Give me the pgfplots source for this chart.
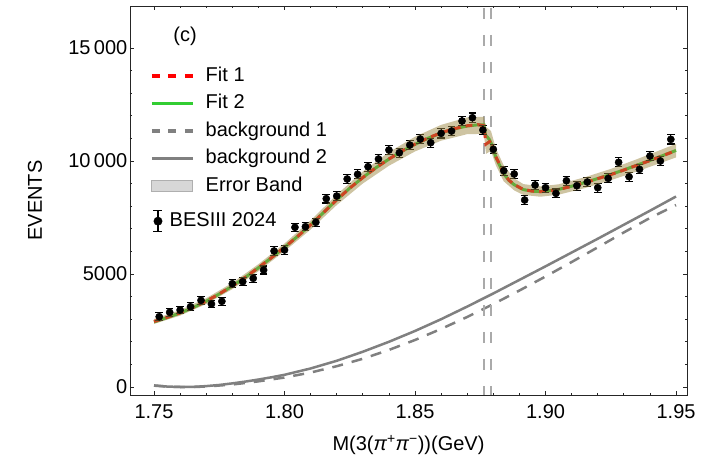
\documentclass[border=0pt]{standalone}
\usepackage{pgfplots}
\usepackage{pgfplotstable}
\pgfplotsset{compat=1.18}
\usepackage{fontspec}
\setmainfont{Liberation Sans}

\definecolor{fitred}{RGB}{255,0,0}
\definecolor{fitgreen}{RGB}{50,205,50}
\definecolor{bkggray}{RGB}{128,128,128}
\definecolor{thrgray}{RGB}{170,170,170}
\definecolor{bandtan}{RGB}{157,137,69}
\definecolor{legbandfill}{RGB}{215,215,215}
\definecolor{legbanddraw}{RGB}{175,175,175}

% BESIII 2024 spectrum: bin centre, events, error
\pgfplotstableread{
x      y      err
1.752  3111   166
1.756  3305   167
1.760  3407   167
1.764  3553   168
1.768  3836   169
1.772  3673   168
1.776  3792   169
1.780  4571   173
1.784  4659   173
1.788  4810   174
1.792  5177   176
1.796  6018   180
1.800  6062   180
1.804  7066   185
1.808  7093   185
1.812  7288   186
1.816  8334   192
1.820  8451   192
1.824  9204   196
1.828  9412   197
1.832  9748   199
1.836  10088  200
1.840  10487  202
1.844  10367  202
1.848  10708  204
1.852  10973  205
1.856  10810  204
1.860  11225  206
1.864  11327  207
1.868  11770  209
1.872  11916  210
1.876  11372  207
1.880  10518  203
1.884  9571   198
1.888  9425   197
1.892  8274   191
1.896  8938   195
1.900  8819   194
1.904  8569   193
1.908  9128   196
1.912  8907   195
1.916  9071   195
1.920  8819   194
1.924  9233   196
1.928  9942   200
1.932  9305   197
1.936  9631   198
1.940  10221  201
1.944  10000  200
1.948  10960  205
}\besdata

% fit 1
\pgfplotstableread{
x       y
1.750   2900
1.755   3080
1.760   3280
1.765   3520
1.770   3800
1.775   4120
1.780   4470
1.785   4860
1.790   5280
1.795   5720
1.800   6180
1.805   6660
1.810   7170
1.815   7720
1.820   8280
1.825   8800
1.830   9270
1.835   9700
1.840   10090
1.845   10440
1.850   10750
1.855   11020
1.860   11250
1.865   11430
1.870   11560
1.874   11610
1.8764  11560
1.8772  10750
1.8791  10900
1.8805  10300
1.882   9950
1.884   9450
1.886   9150
1.888   8960
1.8915  8740
1.895   8665
1.898   8645
1.900   8660
1.905   8740
1.910   8880
1.915   9040
1.920   9220
1.925   9400
1.930   9600
1.935   9810
1.940   10020
1.945   10240
1.950   10460
}\fitone

% fit 2
\pgfplotstableread{
x       y
1.750   2880
1.755   3070
1.760   3275
1.765   3515
1.770   3795
1.775   4115
1.780   4465
1.785   4855
1.790   5275
1.795   5720
1.800   6180
1.805   6665
1.810   7180
1.815   7730
1.820   8285
1.825   8800
1.830   9270
1.835   9700
1.840   10085
1.845   10430
1.850   10740
1.855   11010
1.860   11240
1.865   11420
1.870   11550
1.874   11600
1.8764  11600
1.8770  11150
1.8785  10950
1.8795  10700
1.881   10150
1.884   9430
1.886   9140
1.888   8950
1.8915  8735
1.895   8665
1.898   8650
1.900   8665
1.905   8745
1.910   8885
1.915   9045
1.920   9225
1.925   9405
1.930   9605
1.935   9815
1.940   10025
1.945   10245
1.950   10470
}\fittwo

% background 1
\pgfplotstableread{
x      y
1.750  60
1.755  20
1.760  0
1.765  0
1.770  20
1.780  110
1.790  250
1.800  420
1.810  640
1.820  920
1.830  1250
1.840  1640
1.850  2080
1.860  2570
1.870  3100
1.880  3670
1.890  4270
1.900  4890
1.910  5530
1.920  6180
1.930  6840
1.940  7480
1.950  8050
}\bkgone

% background 2
\pgfplotstableread{
x      y
1.750  70
1.755  20
1.760  0
1.765  5
1.770  40
1.775  90
1.780  160
1.785  240
1.790  330
1.795  430
1.800  540
1.810  820
1.820  1160
1.830  1560
1.840  2000
1.850  2480
1.860  3000
1.870  3560
1.880  4140
1.890  4740
1.900  5340
1.910  5950
1.920  6560
1.930  7180
1.940  7800
1.950  8430
}\bkgtwo

% error band outline: upper edge left to right, lower edge right to left
\pgfplotstableread{
x       y
1.750   3010
1.760   3400
1.770   3930
1.780   4610
1.790   5435
1.800   6350
1.810   7370
1.820   8510
1.830   9535
1.840   10390
1.850   11075
1.860   11600
1.870   11930
1.8764  11960
1.8770  11530
1.8791  11330
1.881   10550
1.884   9800
1.888   9230
1.8915  8980
1.898   8880
1.905   8970
1.915   9280
1.925   9650
1.935   10080
1.945   10530
1.950   10760
1.950   10160
1.945   9950
1.935   9540
1.925   9150
1.915   8800
1.905   8510
1.898   8420
1.8915  8500
1.888   8700
1.884   9100
1.881   9800
1.8791  10450
1.8772  10320
1.8764  11200
1.870   11190
1.860   10900
1.850   10425
1.840   9790
1.830   9005
1.820   8050
1.810   6970
1.800   6010
1.790   5125
1.780   4330
1.770   3670
1.760   3160
1.750   2790
}\errband

\newcommand{\bigfont}{\fontsize{20bp}{24bp}\selectfont}

\begin{document}
\begin{tikzpicture}
\begin{axis}[
  width=557bp, height=389bp, scale only axis,
  xmin=1.7408, xmax=1.9542,
  ymin=-354, ymax=16860,
  xtick={1.75,1.8,1.85,1.9,1.95},
  ytick={0,5000,10000,15000},
  scaled y ticks=false,
  scaled x ticks=false,
  minor x tick num=4,
  minor y tick num=4,
  tick align=inside,
  major tick length=4.5bp,
  minor tick length=2.5bp,
  axis line style={black!85, line width=0.8bp},
  every tick/.style={black!85, line width=0.8bp},
  /pgf/number format/assume math mode=true,
  xticklabel style={/pgf/number format/fixed, /pgf/number format/fixed zerofill,
    /pgf/number format/precision=2, inner ysep=9.5bp},
  yticklabel style={/pgf/number format/1000 sep={\,},
    /pgf/number format/min exponent for 1000 sep=4, inner xsep=2.5bp},
  tick label style={font=\bigfont},
  label style={font=\bigfont},
  xlabel={M(3({\itshape π}\textsuperscript{+}{\itshape π}\textsuperscript{−}))(GeV)},
  ylabel={EVENTS},
  xlabel style={at={(axis description cs:0.5,-0.1285)}, anchor=center},
  ylabel style={at={(axis description cs:-0.1706,0.5)}, anchor=center},
  legend style={at={(axis description cs:0.036,0.8445)}, anchor=north west,
    draw=none, fill=none, font=\bigfont,
    row sep=9bp, inner sep=0bp,
    nodes={inner sep=0bp, text height=14.5bp, text depth=4bp},
    /tikz/every odd column/.append style={column sep=11bp}},
  legend cell align=left,
  clip=true,
]
% legend entries
\addlegendimage{legend image code/.code={\draw[fitred, line width=3.5bp, dash pattern=on 8bp off 8.5bp] (0bp,0bp) -- (41bp,0bp);}}
\addlegendentry{Fit 1}
\addlegendimage{legend image code/.code={\draw[fitgreen, line width=3.5bp] (0bp,0bp) -- (41bp,0bp);}}
\addlegendentry{Fit 2}
\addlegendimage{legend image code/.code={\draw[bkggray, line width=3.5bp, dash pattern=on 8bp off 8.5bp] (0bp,0bp) -- (41bp,0bp);}}
\addlegendentry{background 1}
\addlegendimage{legend image code/.code={\draw[bkggray, line width=3.5bp] (0bp,0bp) -- (41bp,0bp);}}
\addlegendentry{background 2}
\addlegendimage{legend image code/.code={\draw[legbanddraw, fill=legbandfill, line width=1bp] (0bp,-5.5bp) rectangle (41bp,5.5bp);}}
\addlegendentry{Error Band}
\addlegendimage{legend image code/.code={%
  \path[draw=none, fill=none] (0bp,-10bp) rectangle (41bp,17bp);
  \draw[black, line width=1.3bp] (6bp,-10.5bp) -- (6bp,10.5bp);
  \draw[black, line width=1.3bp] (1.5bp,-10.5bp) -- (10.5bp,-10.5bp);
  \draw[black, line width=1.3bp] (1.5bp,10.5bp) -- (10.5bp,10.5bp);
  \fill[black] (6bp,0bp) circle (4.2bp);}}
\addlegendentry{\hspace*{-36bp}BESIII 2024}

% backgrounds
\addplot[forget plot, bkggray, line width=2.5bp, dash pattern=on 11bp off 9bp] table[x=x,y=y] {\bkgone};
\addplot[forget plot, bkggray, line width=2.5bp] table[x=x,y=y] {\bkgtwo};

% p pbar and n nbar thresholds
\addplot[forget plot, thrgray, line width=2bp, dash pattern=on 11bp off 16bp, dash phase=25bp] coordinates {(1.8765,16860) (1.8765,-354)};
\addplot[forget plot, thrgray, line width=2bp, dash pattern=on 11bp off 16bp, dash phase=25bp] coordinates {(1.8791,16860) (1.8791,-354)};

% fits
\addplot[forget plot, fitgreen, line width=3bp] table[x=x,y=y] {\fittwo};
\addplot[forget plot, fitred, line width=3bp, dash pattern=on 7bp off 5bp] table[x=x,y=y] {\fitone};

% data
\addplot[forget plot, black, only marks, mark=*, mark size=3.6bp,
  error bars/.cd, y dir=both, y explicit,
  error bar style={line width=1.1bp, black},
  error mark options={rotate=90, black, line width=1.1bp, mark size=3.8bp}]
  table[x=x, y=y, y error=err] {\besdata};

% error band
\addplot[forget plot, draw=none, fill=bandtan, fill opacity=0.5] table[x=x,y=y] {\errband};

\node[font=\bigfont] at (axis description cs:0.099,0.923) {(c)};
\end{axis}
\pgfresetboundingbox
\path[use as bounding box] ([xshift=-130bp,yshift=-68bp]current axis.south west) rectangle ([xshift=39bp,yshift=6bp]current axis.north east);
\end{tikzpicture}
\end{document}
